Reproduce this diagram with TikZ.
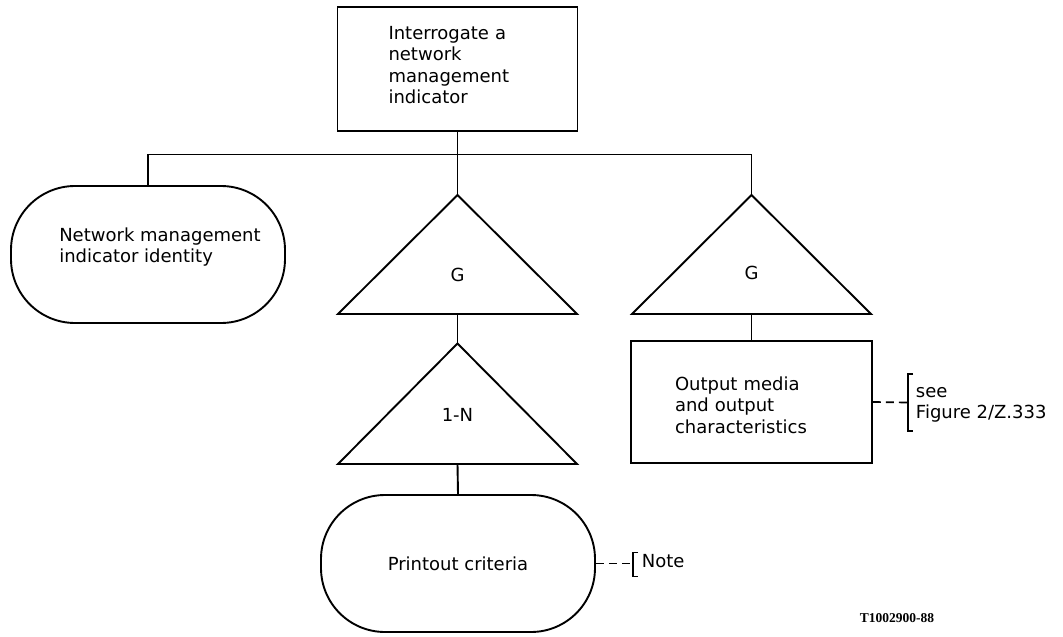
\documentclass[tikz,border=0pt]{standalone}
\usepackage{fontspec}
\setmainfont{DejaVu Sans}
\newfontfamily\codefont{Liberation Serif}
\begin{document}
\begin{tikzpicture}[x=1pt,y=-1pt,line width=1.9pt,line join=miter,
  every node/.style={font=\fontsize{18}{21.5}\selectfont, inner sep=0pt},
  boxnode/.style={draw, rectangle, minimum width=#1, minimum height=124pt, align=left},
  stadium/.style={draw, rounded corners=64pt, minimum width=274pt, minimum height=137pt},
  tri/.style={line join=miter},
  notedash/.style={dash pattern=on 8pt off 5pt, line width=1.7pt}
]
\useasboundingbox (0,0) rectangle (1063,637);

% top box
\node[draw, rectangle, minimum width=240pt, minimum height=124pt] (top) at (457.5,69) {};
\node[align=left, text width=138pt] (toptext) at (457.5,65) {Interrogate a\\network\\management\\indicator};

% left stadium
\node[stadium] (nmi) at (148,254.5) {};
\node[align=left] (nmitext) at (160,247) {Network management\\indicator identity};

% triangle 1 (G)
\coordinate (t1a) at (457.5,195);
\coordinate (t1l) at (338,314);
\coordinate (t1r) at (577,314);
\coordinate (t1b) at (457.5,314);
\draw[tri] (t1a) -- (t1r) -- (t1l) -- cycle;
\node (t1) at (457.5,275) {G};

% triangle 2 (G)
\coordinate (t2a) at (751.5,195);
\coordinate (t2l) at (632,314);
\coordinate (t2r) at (871,314);
\coordinate (t2b) at (751.5,314);
\draw[tri] (t2a) -- (t2r) -- (t2l) -- cycle;
\node (t2) at (751.5,273) {G};

% triangle 3 (1-N)
\coordinate (t3a) at (457.5,343.5);
\coordinate (t3l) at (338,464);
\coordinate (t3r) at (577,464);
\coordinate (t3b) at (457.5,464);
\draw[tri] (t3a) -- (t3r) -- (t3l) -- cycle;
\node (t3) at (457.5,415) {1-N};

% output box
\node[draw, rectangle, minimum width=241pt, minimum height=121.5pt] (out) at (751.5,402) {};
\node[align=left, text width=153pt] (outtext) at (751.5,405) {Output media\\and output\\characteristics};

% printout stadium
\node[stadium] (pc) at (458,563.5) {Printout criteria};

% connectors
\coordinate (bus) at (0,154.5);
\draw (top.south) -- (t1a);
\draw (nmi.north) -- (nmi.north |- bus) -- (t2a |- bus) -- (t2a);
\draw (t2b) -- (out.north);
\draw (t1b) -- (t3a);
\draw (t3b) -- (pc.north);

% see Figure bracket
\coordinate (b1) at (908,402.5);
\draw[notedash] (out.east) -- (b1);
\draw ([shift={(5,-28.5)}]b1) -- ([shift={(0,-28.5)}]b1) -- ([shift={(0,28.5)}]b1) -- ([shift={(5,28.5)}]b1);
\node[anchor=west, align=left] (see) at (915,405) {see\\Figure 2/Z.333};

% Note bracket
\coordinate (b2) at (633,563.5);
\draw[notedash] (pc.east) -- (b2);
\draw ([shift={(5,-11)}]b2) -- ([shift={(0,-11)}]b2) -- ([shift={(0,13)}]b2) -- ([shift={(5,13)}]b2);
\node[anchor=west] (note) at (641,561.5) {Note};

% code
\node[font=\codefont\bfseries\fontsize{13.5}{16}\selectfont] (code) at (897,618) {T1002900-88};
\end{tikzpicture}
\end{document}
